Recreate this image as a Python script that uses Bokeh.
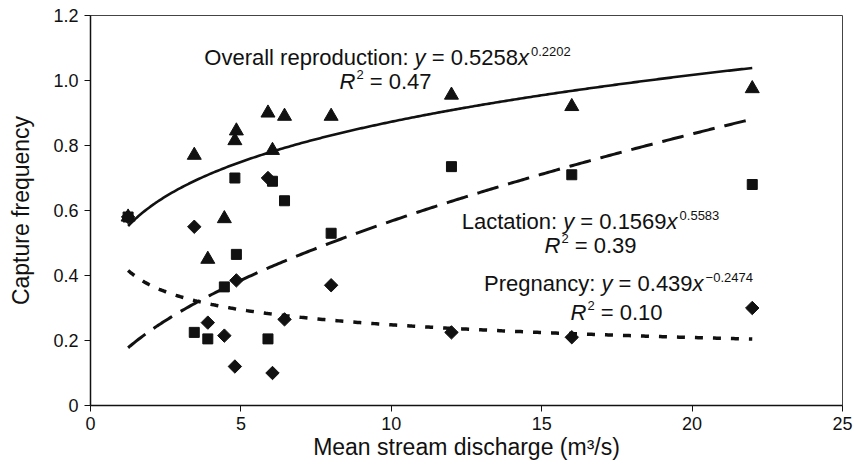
import numpy as np
from bokeh.plotting import figure
from bokeh.models import Label, Range1d, FixedTicker
from bokeh.embed import file_html
from bokeh.resources import INLINE

# ---------------- data ----------------
discharge = [1.25, 3.45, 3.9, 4.45, 4.8, 4.85, 5.9, 6.05, 6.45, 8.0, 12.0, 16.0, 22.0]
overall   = [0.58, 0.77, 0.45, 0.575, 0.815, 0.845, 0.90, 0.785, 0.89, 0.89, 0.955, 0.92, 0.975]
lactation = [0.58, 0.225, 0.205, 0.365, 0.70, 0.465, 0.205, 0.69, 0.63, 0.53, 0.735, 0.71, 0.68]
pregnancy = [0.58, 0.55, 0.255, 0.215, 0.12, 0.385, 0.70, 0.10, 0.265, 0.37, 0.225, 0.21, 0.30]

# power-law trendlines as printed on the chart: y = a * x^b
fit_names = ["overall", "lactation", "pregnancy"]
fit_a = [0.5258, 0.1569, 0.439]
fit_b = [0.2202, 0.5583, -0.2474]
fit_r2 = ["0.47", "0.39", "0.10"]
fit_titles = ["Overall reproduction:", "Lactation:", "Pregnancy:"]
fit_a_text = ["0.5258", "0.1569", "0.439"]
fit_b_text = ["0.2202", "0.5583", "\u22120.2474"]

x_ticks = [0, 5, 10, 15, 20, 25]
y_ticks = [0, 0.2, 0.4, 0.6, 0.8, 1.0, 1.2]
y_tick_labels = ["0", "0.2", "0.4", "0.6", "0.8", "1.0", "1.2"]

FONT = "Liberation Sans"
INK = "#111111"

p = figure(width=854, height=465, output_backend="svg", toolbar_location=None,
           x_range=Range1d(0, 25), y_range=Range1d(0, 1.2),
           min_border_left=90, min_border_right=12, min_border_top=15,
           min_border_bottom=60)
p.background_fill_color = "white"
p.border_fill_color = "white"
p.outline_line_color = "#444444"
p.outline_line_width = 1
p.xgrid.visible = False
p.ygrid.visible = False

for ax in (p.xaxis[0], p.yaxis[0]):
    ax.axis_line_color = INK
    ax.axis_line_width = 1.5
    ax.major_tick_line_color = INK
    ax.major_tick_out = 6
    ax.major_tick_in = 0
    ax.minor_tick_line_color = None
    ax.major_label_text_font = FONT
    ax.major_label_text_font_size = "18px"
    ax.major_label_text_color = INK
    ax.axis_label_text_font = FONT
    ax.axis_label_text_font_style = "normal"
    ax.axis_label_text_color = INK

p.xaxis.ticker = FixedTicker(ticks=x_ticks)
p.yaxis.ticker = FixedTicker(ticks=y_ticks)
p.yaxis.major_label_overrides = {t: l for t, l in zip(y_ticks, y_tick_labels)}
p.xaxis.axis_label = "Mean stream discharge (m\u00b3/s)"
p.yaxis.axis_label = "Capture frequency"
p.xaxis.axis_label_text_font_size = "23px"
p.yaxis.axis_label_text_font_size = "23px"
p.xaxis.major_label_standoff = 5
p.xaxis.axis_label_standoff = 1
p.yaxis.major_label_standoff = 6
p.yaxis.axis_label_standoff = 16

# trendlines
x_lo, x_hi = min(discharge), max(discharge)
xs = np.linspace(x_lo, x_hi, 300)
styles = {
    "overall": dict(line_width=2.6, line_dash="solid"),
    "lactation": dict(line_width=3, line_dash="22 10"),
    "pregnancy": dict(line_width=3.5, line_dash="8 10"),
}
for name, a, b in zip(fit_names, fit_a, fit_b):
    p.line(xs, a * xs ** b, line_color=INK, line_cap="butt", **styles[name])

# markers
p.scatter(discharge, lactation, marker="square", size=10, color=INK)
p.scatter(discharge, overall, marker="triangle", size=14, color=INK)
p.scatter(discharge, pregnancy, marker="square", size=9.5, angle=np.pi / 4, color=INK)

# ---------------- annotation text, laid out piece by piece ----------------
ADV = {" ": 278, ":": 278, ".": 278, "=": 584, "\u2212": 584, "O": 778, "v": 500,
       "e": 556, "r": 333, "a": 556, "l": 222, "p": 556, "o": 556, "d": 556,
       "u": 556, "c": 500, "t": 278, "i": 222, "n": 556, "y": 500, "x": 500,
       "R": 722, "L": 556, "P": 667, "g": 556}

def text_width(s, size):
    return sum(ADV.get(c, 556) for c in s) / 1000.0 * size

def px_x(px):
    return (px - 90) / (752 / 25)

def px_y(py):
    return (405 - py) / (390 / 1.2)

def add_text(txt, left, base, size, italic=False):
    p.add_layout(Label(x=px_x(left), y=px_y(base), text=txt, text_font=FONT,
                       text_font_size=f"{size}px",
                       text_font_style="italic" if italic else "normal",
                       text_baseline="alphabetic", text_align="left",
                       text_color=INK))

MAIN, SUP = 22, 13
SP = 0.278 * MAIN

def add_line(segments, center, base):
    total = sum(g + text_width(t, s) for t, s, it, rise, g in segments)
    x = center - total / 2
    for t, s, it, rise, g in segments:
        x += g
        add_text(t, x, base - rise, s, it)
        x += text_width(t, s)

eq_centers = [387, 590, 618]
eq_bases = [57, 221, 283]
r2_centers = [385, 590, 616]
r2_bases = [81, 245, 312]

for i in range(3):
    add_line([(fit_titles[i], MAIN, False, 0, 0),
              ("y", MAIN, True, 0, SP),
              ("=", MAIN, False, 0, SP),
              (fit_a_text[i], MAIN, False, 0, SP),
              ("x", MAIN, True, 0, 0),
              (fit_b_text[i], SUP, False, 6, 2)],
             eq_centers[i], eq_bases[i])
    add_line([("R", MAIN, True, 0, 0),
              ("2", SUP, False, 7, 1),
              ("=", MAIN, False, 0, SP),
              (fit_r2[i], MAIN, False, 0, SP)],
             r2_centers[i], r2_bases[i])

open("out.html", "w").write(file_html(p, INLINE))
